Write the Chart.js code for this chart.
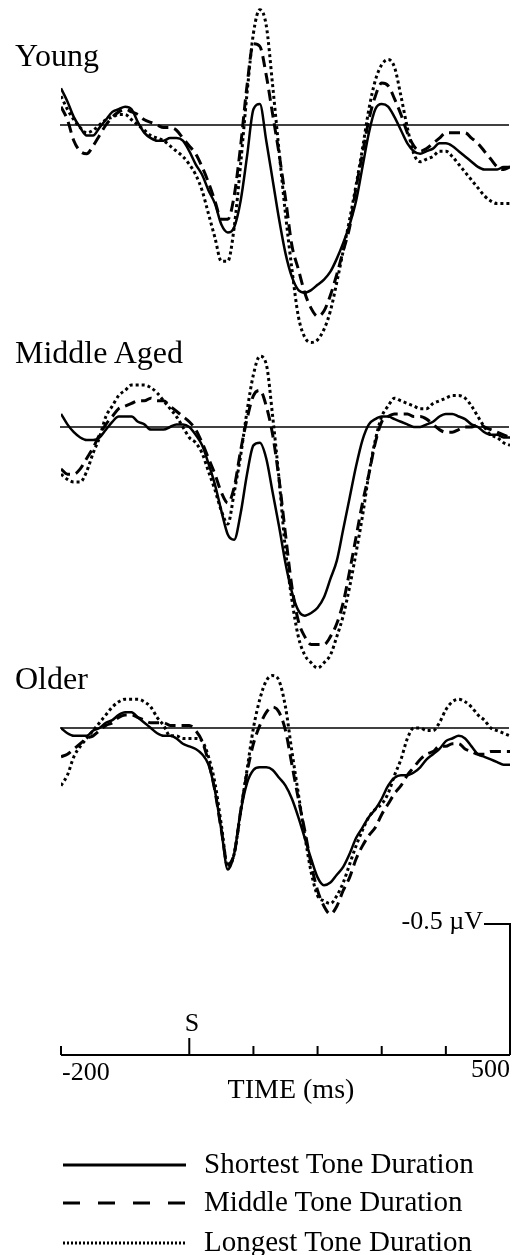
<!DOCTYPE html>
<html>
<head>
<meta charset="utf-8">
<title>ERP by age group and tone duration</title>
<script src="https://cdn.jsdelivr.net/npm/chart.js@4.4.0/dist/chart.umd.min.js"></script>
<style>
  html, body { margin: 0; padding: 0; background: #fff; }
  #wrap { position: relative; width: 516px; height: 1255px; overflow: hidden; }
  #erpChart { position: absolute; left: 0; top: 0; }
  .lbl {
    position: absolute;
    font-family: "Liberation Serif", "Times New Roman", serif;
    color: #000;
    line-height: 1;
    white-space: nowrap;
  }
</style>
</head>
<body>
<div id="wrap">
  <canvas id="erpChart" width="516" height="1255"></canvas>
  <div class="lbl" style="left:15px; top:39px; font-size:32px;">Young</div>
  <div class="lbl" style="left:15px; top:336px; font-size:32px;">Middle Aged</div>
  <div class="lbl" style="left:15px; top:662px; font-size:32px;">Older</div>
  <div class="lbl" style="right:33px; top:908px; font-size:26px;">-0.5 &micro;V</div>
  <div class="lbl" style="left:192px; top:1010px; font-size:26px; transform:translateX(-50%);">S</div>
  <div class="lbl" style="left:62px; top:1059px; font-size:26px;">-200</div>
  <div class="lbl" style="right:6px; top:1056px; font-size:26px;">500</div>
  <div class="lbl" style="left:291px; top:1075px; font-size:28px; transform:translateX(-50%);">TIME (ms)</div>
  <div class="lbl" style="left:204px; top:1149px; font-size:29px;">Shortest Tone Duration</div>
  <div class="lbl" style="left:204px; top:1187px; font-size:29px;">Middle Tone Duration</div>
  <div class="lbl" style="left:204px; top:1227px; font-size:29px;">Longest Tone Duration</div>
</div>
<script>
// Time points (ms), every 10 ms from -200 to 500
const TIME_MS = [
  -200, -190, -180, -170, -160, -150, -140, -130, -120, -110,
  -100, -90, -80, -70, -60, -50, -40, -30, -20, -10,
  0, 10, 20, 30, 40, 50, 60, 70, 80, 90,
  100, 110, 120, 130, 140, 150, 160, 170, 180, 190,
  200, 210, 220, 230, 240, 250, 260, 270, 280, 290,
  300, 310, 320, 330, 340, 350, 360, 370, 380, 390,
  400, 410, 420, 430, 440, 450, 460, 470, 480, 490,
  500
];

// Amplitudes in microvolts (negative plotted upward)
const YOUNG_SHORT = [
  -0.14, -0.09, -0.03, 0.01, 0.04, 0.04, 0.01, -0.02, -0.05, -0.06,
  -0.07, -0.06, -0.01, 0.03, 0.05, 0.06, 0.06, 0.05, 0.05, 0.06,
  0.10, 0.15, 0.19, 0.25, 0.30, 0.38, 0.41, 0.39, 0.29, 0.12,
  -0.06, -0.08, 0.06, 0.21, 0.36, 0.49, 0.58, 0.63, 0.64, 0.63,
  0.61, 0.59, 0.56, 0.51, 0.45, 0.38, 0.29, 0.16, 0.03, -0.06,
  -0.08, -0.07, -0.03, 0.02, 0.07, 0.10, 0.11, 0.10, 0.09, 0.07,
  0.07, 0.08, 0.10, 0.12, 0.14, 0.16, 0.17, 0.17, 0.17, 0.16,
  0.16
];
const YOUNG_MIDDLE = [
  -0.07, -0.02, 0.06, 0.10, 0.11, 0.08, 0.04, 0.00, -0.03, -0.05,
  -0.06, -0.05, -0.04, -0.02, -0.01, 0.00, 0.01, 0.01, 0.02, 0.05,
  0.08, 0.11, 0.16, 0.22, 0.29, 0.36, 0.36, 0.27, 0.08, -0.15,
  -0.31, -0.30, -0.19, -0.04, 0.11, 0.28, 0.46, 0.55, 0.64, 0.70,
  0.73, 0.71, 0.65, 0.57, 0.48, 0.39, 0.24, 0.11, -0.02, -0.11,
  -0.16, -0.15, -0.10, -0.04, 0.03, 0.08, 0.10, 0.09, 0.07, 0.05,
  0.03, 0.03, 0.03, 0.03, 0.05, 0.07, 0.10, 0.13, 0.16, 0.17,
  0.16
];
const YOUNG_LONG = [
  -0.11, -0.06, -0.02, 0.01, 0.03, 0.02, 0.00, -0.02, -0.03, -0.04,
  -0.04, -0.02, 0.00, 0.02, 0.04, 0.05, 0.06, 0.08, 0.10, 0.12,
  0.15, 0.19, 0.25, 0.34, 0.43, 0.52, 0.52, 0.39, 0.15, -0.12,
  -0.35, -0.44, -0.38, -0.15, 0.10, 0.34, 0.55, 0.73, 0.81, 0.83,
  0.82, 0.78, 0.71, 0.60, 0.48, 0.36, 0.23, 0.09, -0.06, -0.17,
  -0.23, -0.25, -0.22, -0.11, 0.01, 0.11, 0.14, 0.13, 0.12, 0.10,
  0.10, 0.12, 0.15, 0.18, 0.21, 0.24, 0.27, 0.29, 0.30, 0.30,
  0.30
];

const MID_SHORT = [
  -0.05, -0.01, 0.02, 0.04, 0.05, 0.05, 0.04, 0.01, -0.02, -0.04,
  -0.04, -0.04, -0.02, -0.01, 0.01, 0.01, 0.01, 0.00, -0.01, -0.01,
  0.00, 0.03, 0.07, 0.14, 0.22, 0.32, 0.41, 0.43, 0.33, 0.18,
  0.07, 0.06, 0.12, 0.25, 0.38, 0.52, 0.63, 0.70, 0.72, 0.71,
  0.69, 0.65, 0.58, 0.51, 0.39, 0.27, 0.15, 0.05, -0.01, -0.03,
  -0.04, -0.04, -0.03, -0.02, -0.01, 0.00, 0.00, -0.01, -0.02, -0.04,
  -0.05, -0.05, -0.04, -0.03, -0.01, 0.00, 0.02, 0.03, 0.03, 0.04,
  0.04
];
const MID_MIDDLE = [
  0.16, 0.18, 0.18, 0.16, 0.12, 0.08, 0.03, -0.01, -0.04, -0.07,
  -0.08, -0.09, -0.10, -0.10, -0.11, -0.10, -0.10, -0.08, -0.06, -0.04,
  -0.02, 0.01, 0.06, 0.12, 0.18, 0.25, 0.29, 0.23, 0.09, -0.03,
  -0.12, -0.14, -0.08, 0.03, 0.20, 0.41, 0.61, 0.74, 0.80, 0.83,
  0.83, 0.83, 0.80, 0.75, 0.67, 0.55, 0.42, 0.29, 0.18, 0.06,
  -0.02, -0.04, -0.05, -0.05, -0.05, -0.04, -0.04, -0.03, -0.01, 0.01,
  0.02, 0.02, 0.01, 0.00, 0.00, -0.01, 0.00, 0.01, 0.02, 0.03,
  0.04
];
const MID_LONG = [
  0.18, 0.20, 0.21, 0.21, 0.17, 0.10, 0.04, -0.04, -0.08, -0.12,
  -0.14, -0.16, -0.16, -0.16, -0.15, -0.13, -0.10, -0.07, -0.04, 0.00,
  0.04, 0.06, 0.10, 0.17, 0.24, 0.32, 0.37, 0.25, 0.11, -0.06,
  -0.20, -0.27, -0.24, -0.04, 0.20, 0.47, 0.66, 0.80, 0.87, 0.90,
  0.92, 0.90, 0.87, 0.80, 0.72, 0.61, 0.48, 0.34, 0.18, 0.05,
  -0.04, -0.08, -0.11, -0.10, -0.09, -0.08, -0.07, -0.07, -0.09, -0.10,
  -0.11, -0.12, -0.12, -0.11, -0.08, -0.04, 0.00, 0.03, 0.04, 0.06,
  0.07
];

const OLD_SHORT = [
  0.00, 0.02, 0.03, 0.03, 0.03, 0.01, 0.00, -0.02, -0.03, -0.05,
  -0.06, -0.06, -0.04, -0.02, 0.00, 0.02, 0.03, 0.03, 0.04, 0.06,
  0.07, 0.08, 0.10, 0.14, 0.24, 0.39, 0.54, 0.48, 0.32, 0.21,
  0.16, 0.15, 0.15, 0.16, 0.19, 0.22, 0.27, 0.34, 0.42, 0.50,
  0.57, 0.60, 0.59, 0.56, 0.53, 0.48, 0.42, 0.38, 0.34, 0.31,
  0.27, 0.22, 0.19, 0.18, 0.18, 0.17, 0.15, 0.12, 0.10, 0.08,
  0.05, 0.04, 0.03, 0.04, 0.07, 0.10, 0.11, 0.12, 0.13, 0.14,
  0.14
];
const OLD_MIDDLE = [
  0.11, 0.10, 0.08, 0.06, 0.04, 0.03, 0.01, -0.01, -0.02, -0.04,
  -0.05, -0.05, -0.04, -0.03, -0.02, -0.02, -0.02, -0.01, -0.01, -0.01,
  -0.01, 0.01, 0.05, 0.13, 0.24, 0.39, 0.52, 0.48, 0.32, 0.17,
  0.06, -0.01, -0.06, -0.08, -0.06, 0.01, 0.14, 0.27, 0.39, 0.52,
  0.62, 0.68, 0.71, 0.68, 0.62, 0.57, 0.50, 0.45, 0.41, 0.38,
  0.33, 0.29, 0.25, 0.22, 0.18, 0.15, 0.12, 0.10, 0.09, 0.07,
  0.07, 0.06, 0.06, 0.08, 0.09, 0.10, 0.10, 0.09, 0.09, 0.09,
  0.09
];
const OLD_LONG = [
  0.22, 0.18, 0.11, 0.07, 0.04, 0.01, -0.02, -0.05, -0.08, -0.10,
  -0.11, -0.11, -0.11, -0.10, -0.08, -0.04, -0.01, 0.03, 0.03, 0.04,
  0.04, 0.04, 0.05, 0.11, 0.21, 0.37, 0.53, 0.48, 0.32, 0.16,
  0.00, -0.11, -0.18, -0.20, -0.18, -0.08, 0.09, 0.25, 0.41, 0.55,
  0.64, 0.66, 0.67, 0.64, 0.59, 0.52, 0.45, 0.39, 0.34, 0.31,
  0.29, 0.25, 0.18, 0.12, 0.04, 0.00, 0.00, 0.01, 0.01, -0.02,
  -0.07, -0.10, -0.11, -0.10, -0.08, -0.05, -0.03, 0.00, 0.01, 0.02,
  0.03
];

const GROUPS = ['Young', 'Middle Aged', 'Older'];
const DURATIONS = ['Shortest Tone Duration', 'Middle Tone Duration', 'Longest Tone Duration'];
const SERIES = [
  [YOUNG_SHORT, YOUNG_MIDDLE, YOUNG_LONG],
  [MID_SHORT, MID_MIDDLE, MID_LONG],
  [OLD_SHORT, OLD_MIDDLE, OLD_LONG]
];
const TIME_TICKS = [-200, 0, 100, 200, 300, 400, 500];
const SCALE_BAR_UV = -0.5;

// Layout (pixels)
const PLOT_TOP = 0;
const PLOT_BOTTOM = 1055;
const PANEL_BASELINE_PX = [125, 427, 728];
const PX_PER_UV = 262;

// Line styles per tone duration
const LINE_STYLES = [
  { width: 2.5, dash: [] },
  { width: 3, dash: [11, 6] },
  { width: 3, dash: [3, 3] }
];
const LEGEND_DASH = [[], [17, 18], [2, 2]];
const LEGEND_Y = [1165, 1203, 1243];

// Each age group gets its own hidden axis so its zero line sits at its baseline
function panelAxis(baseline) {
  return {
    display: false,
    reverse: true,
    min: -(baseline - PLOT_TOP) / PX_PER_UV,
    max: (PLOT_BOTTOM - baseline) / PX_PER_UV
  };
}

function buildDatasets() {
  const datasets = [];
  SERIES.forEach((group, g) => {
    group.forEach((values, d) => {
      datasets.push({
        label: GROUPS[g] + ' - ' + DURATIONS[d],
        data: values.map((v, i) => ({ x: TIME_MS[i], y: v })),
        yAxisID: 'y' + g,
        borderColor: '#000',
        borderWidth: LINE_STYLES[d].width,
        borderDash: LINE_STYLES[d].dash,
        borderCapStyle: 'butt',
        pointRadius: 0,
        fill: false,
        cubicInterpolationMode: 'monotone'
      });
    });
  });
  return datasets;
}

// Baselines, time axis, scale bar and legend samples
const erpDecorations = {
  id: 'erpDecorations',
  beforeDatasetsDraw(chart) {
    const ctx = chart.ctx;
    const x = chart.scales.x;
    ctx.save();
    ctx.strokeStyle = '#000';
    ctx.lineWidth = 1.5;
    ctx.setLineDash([]);
    GROUPS.forEach((name, g) => {
      const y = chart.scales['y' + g].getPixelForValue(0);
      ctx.beginPath();
      ctx.moveTo(x.getPixelForValue(TIME_MS[0]) - 1, y);
      ctx.lineTo(x.getPixelForValue(TIME_MS[TIME_MS.length - 1]) - 1, y);
      ctx.stroke();
    });
    ctx.restore();
  },
  afterDraw(chart) {
    const ctx = chart.ctx;
    const x = chart.scales.x;
    const yOld = chart.scales.y2;
    const axisY = chart.chartArea.bottom;
    const left = x.getPixelForValue(TIME_TICKS[0]);
    const right = x.getPixelForValue(TIME_TICKS[TIME_TICKS.length - 1]);
    ctx.save();
    ctx.strokeStyle = '#000';
    ctx.setLineDash([]);
    ctx.lineWidth = 2;

    // time axis and upward ticks
    ctx.beginPath();
    ctx.moveTo(left, axisY);
    ctx.lineTo(right, axisY);
    TIME_TICKS.forEach((t) => {
      if (t === TIME_TICKS[TIME_TICKS.length - 1]) return;
      const px = x.getPixelForValue(t);
      const len = t === 0 ? 17 : 9;
      ctx.moveTo(px, axisY);
      ctx.lineTo(px, axisY - len);
    });
    ctx.stroke();

    // amplitude scale bar at the right end
    const barLen = yOld.getPixelForValue(0) - yOld.getPixelForValue(SCALE_BAR_UV);
    ctx.beginPath();
    ctx.moveTo(right, axisY);
    ctx.lineTo(right, axisY - barLen);
    ctx.lineTo(right - 26, axisY - barLen);
    ctx.stroke();

    // legend line samples
    LINE_STYLES.forEach((s, d) => {
      ctx.lineWidth = 3;
      ctx.setLineDash(LEGEND_DASH[d]);
      ctx.beginPath();
      ctx.moveTo(63, LEGEND_Y[d]);
      ctx.lineTo(186, LEGEND_Y[d]);
      ctx.stroke();
    });
    ctx.restore();
  }
};

const scales = {
  x: { type: 'linear', display: false, min: TIME_TICKS[0], max: TIME_TICKS[TIME_TICKS.length - 1] }
};
PANEL_BASELINE_PX.forEach((b, g) => {
  scales['y' + g] = panelAxis(b);
});

new Chart(document.getElementById('erpChart'), {
  type: 'line',
  data: { datasets: buildDatasets() },
  options: {
    responsive: false,
    animation: false,
    layout: { padding: { left: 61, right: 6, top: PLOT_TOP, bottom: 1255 - PLOT_BOTTOM } },
    plugins: { legend: { display: false }, tooltip: { enabled: false } },
    scales: scales,
    elements: { line: { clip: false } }
  },
  plugins: [erpDecorations]
});
</script>
</body>
</html>
